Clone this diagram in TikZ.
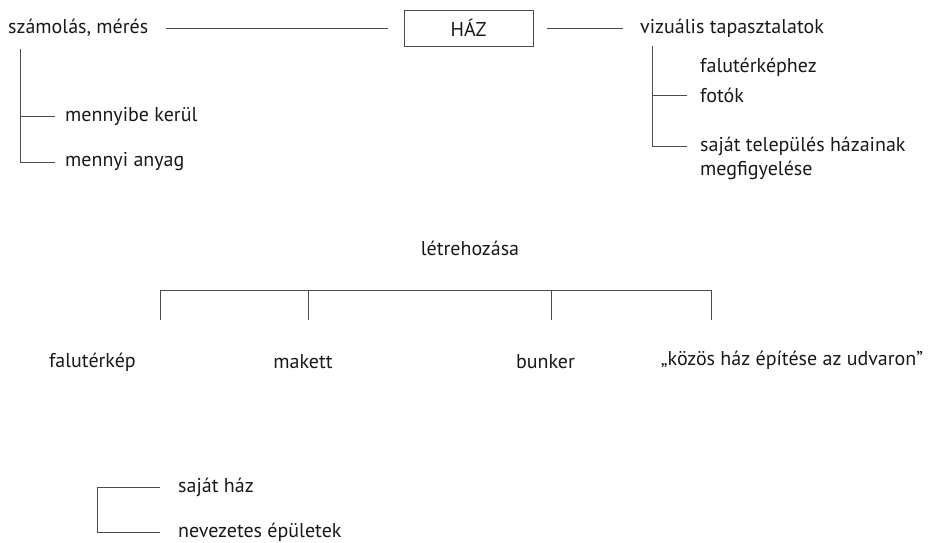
\documentclass[tikz,border=0pt]{standalone}
\usepackage{fontspec}
\setmainfont{PT Sans}
\begin{document}
\begin{tikzpicture}[x=1pt,y=-1pt,
  lbl/.style={inner sep=0pt,anchor=west,font=\fontsize{20}{24}\selectfont,text=black!90},
  ctr/.style={inner sep=0pt,font=\fontsize{20}{24}\selectfont,text=black!90},
  conn/.style={draw=black!70,line width=0.8pt}]
\useasboundingbox (0,0) rectangle (932,543);
% top row
\node[lbl] (szam) at (8,28) {számolás, mérés};
\node[draw=black!70,line width=0.8pt,minimum width=129pt,minimum height=36pt,inner sep=0pt,font=\fontsize{20}{24}\selectfont,text=black!90] (haz) at (468.5,28) {HÁZ};
\node[lbl] (viz) at (640,28) {vizuális tapasztalatok};
\draw[conn] ([xshift=-16pt]haz.west) -- ([xshift=18pt]szam.east |- haz.west);
\draw[conn] ([xshift=13.5pt]haz.east) -- ([xshift=-17pt]viz.west |- haz.east);
% left subtree
\node[lbl] (mk) at (65,116) {mennyibe kerül};
\node[lbl] (ma) at (65,162) {mennyi anyag};
\coordinate (l0) at (20,49);
\draw[conn] (l0) |- ([xshift=-10pt]ma.west);
\draw[conn] (l0 |- mk.west) -- ([xshift=-10pt]mk.west);
% right subtree
\node[lbl] (fal) at (700,67) {falutérképhez};
\node[lbl] (fot) at (700,95) {fotók};
\node[lbl] (saj) at (700,146) {saját település házainak};
\node[lbl] (meg) at (700,170) {megfigyelése};
\coordinate (r0) at (652.7,46);
\draw[conn] (r0) |- ([xshift=-13.5pt]saj.west);
\draw[conn] (r0 |- fot.west) -- ([xshift=-13.5pt]fot.west);
% middle
\node[ctr] (letr) at (470,248) {létrehozása};
\coordinate (b1) at (160,320);
\coordinate (b2) at (308.7,320);
\coordinate (b3) at (551,320);
\coordinate (b4) at (711.3,320);
\draw[conn] (b1) |- (160,290.5) -| (b4);
\draw[conn] (b2) -- (b2 |- 0,290.5);
\draw[conn] (b3) -- (b3 |- 0,290.5);
\node[ctr] (fter) at (92.4,362) {falutérkép};
\node[ctr] (mak) at (303,362) {makett};
\node[ctr] (bun) at (545.5,362) {bunker};
\node[ctr] (koz) at (792,360) {„közös ház építése az udvaron”};
% bottom
\node[lbl] (sh) at (178,487) {saját ház};
\node[lbl] (ne) at (178,532) {nevezetes épületek};
\draw[conn] ([xshift=-18pt]sh.west) -| (97,0 |- ne.west) -- ([xshift=-18pt]ne.west);
\end{tikzpicture}
\end{document}
